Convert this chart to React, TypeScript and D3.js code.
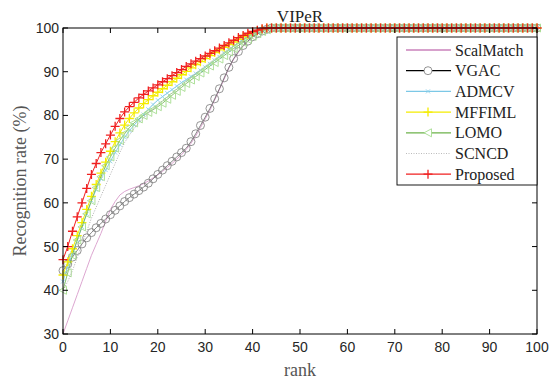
import { useEffect, useRef } from 'react';
import * as d3 from 'd3';

// rank axis (CMC curve, ranks 0..100)
const ranks = d3.range(0, 101);
const xTicks = [0, 10, 20, 30, 40, 50, 60, 70, 80, 90, 100];
const yTicks = [30, 40, 50, 60, 70, 80, 90, 100];

const scalMatch = [
  30, 33, 36, 39, 42, 45, 48, 50.5, 53, 55.8,
  58.5, 60.3, 61.8, 62.6, 63.1, 63.5, 63.9, 64.4, 65, 65.7,
  66.4, 67.2, 68.1, 69, 70, 71, 72.2, 73.6, 75.3, 77.2,
  79.2, 81.2, 83.5, 85.9, 88.3, 90.8, 92.8, 94.4, 95.8, 96.9,
  97.9, 98.6, 99.2, 99.6, 100,
  100, 100, 100, 100, 100, 100, 100, 100, 100, 100, 100, 100, 100, 100, 100, 100, 100, 100, 100, 100, 100, 100, 100, 100, 100, 100, 100, 100,
  100, 100, 100, 100, 100, 100, 100, 100, 100, 100, 100, 100, 100, 100, 100, 100, 100, 100, 100, 100, 100, 100, 100, 100, 100, 100, 100, 100,
];

const vgac = [
  44.5, 46, 47.6, 49.1, 50.6, 52, 53.2, 54.3, 55.3, 56.3,
  57.3, 58.3, 59.3, 60.3, 61.2, 62, 62.8, 63.6, 64.5, 65.5,
  66.5, 67.5, 68.5, 69.5, 70.5, 71.5, 72.5, 74, 75.8, 77.7,
  79.6, 81.6, 83.8, 86.1, 88.6, 91, 93, 94.6, 96, 97,
  98, 98.7, 99.3, 99.7, 100,
  100, 100, 100, 100, 100, 100, 100, 100, 100, 100, 100, 100, 100, 100, 100, 100, 100, 100, 100, 100, 100, 100, 100, 100, 100, 100, 100, 100,
  100, 100, 100, 100, 100, 100, 100, 100, 100, 100, 100, 100, 100, 100, 100, 100, 100, 100, 100, 100, 100, 100, 100, 100, 100, 100, 100, 100,
];

const admcv = [
  42, 45.5, 48.5, 51.5, 54.5, 57.5, 60.5, 63, 65.5, 67.5,
  69.5, 71.5, 73.3, 75, 76.5, 77.8, 79, 80.2, 81.4, 82.5,
  83.5, 84.3, 85.1, 85.9, 86.7, 87.5, 88.2, 88.9, 89.6, 90.3,
  91, 91.8, 92.6, 93.4, 94.2, 95, 95.8, 96.6, 97.4, 98.1,
  98.7, 99.2, 99.6, 100, 100,
  100, 100, 100, 100, 100, 100, 100, 100, 100, 100, 100, 100, 100, 100, 100, 100, 100, 100, 100, 100, 100, 100, 100, 100, 100, 100, 100, 100,
  100, 100, 100, 100, 100, 100, 100, 100, 100, 100, 100, 100, 100, 100, 100, 100, 100, 100, 100, 100, 100, 100, 100, 100, 100, 100, 100, 100,
];

const mffiml = [
  43.5, 46.5, 49.5, 52.5, 55.5, 58.5, 61.5, 64.2, 66.8, 69.3,
  71.8, 74, 76, 77.8, 79.3, 80.6, 81.7, 82.7, 83.6, 84.5,
  85.3, 86.1, 86.9, 87.7, 88.5, 89.3, 90.1, 90.9, 91.6, 92.3,
  93, 93.7, 94.4, 95, 95.6, 96.2, 96.8, 97.4, 98, 98.5,
  99, 99.4, 99.7, 100, 100,
  100, 100, 100, 100, 100, 100, 100, 100, 100, 100, 100, 100, 100, 100, 100, 100, 100, 100, 100, 100, 100, 100, 100, 100, 100, 100, 100, 100,
  100, 100, 100, 100, 100, 100, 100, 100, 100, 100, 100, 100, 100, 100, 100, 100, 100, 100, 100, 100, 100, 100, 100, 100, 100, 100, 100, 100,
];

const lomo = [
  40, 44, 48, 51.5, 54.5, 57.5, 60.5, 63.5, 66, 68.5,
  70.5, 72.5, 74.3, 75.8, 77.2, 78.3, 79.2, 80, 80.7, 81.3,
  82, 82.8, 83.7, 84.6, 85.5, 86.4, 87.3, 88.1, 88.9, 89.7,
  90.5, 91.3, 92.1, 92.9, 93.7, 94.5, 95.3, 96, 96.7, 97.4,
  98.1, 98.7, 99.2, 99.6, 100,
  100, 100, 100, 100, 100, 100, 100, 100, 100, 100, 100, 100, 100, 100, 100, 100, 100, 100, 100, 100, 100, 100, 100, 100, 100, 100, 100, 100,
  100, 100, 100, 100, 100, 100, 100, 100, 100, 100, 100, 100, 100, 100, 100, 100, 100, 100, 100, 100, 100, 100, 100, 100, 100, 100, 100, 100,
];

const scncd = [
  40, 42, 44.5, 47.5, 50.5, 53.5, 56.5, 59, 61.5, 64,
  66.5, 69, 71.5, 73.8, 75.5, 77, 78.3, 79.5, 80.5, 81.5,
  82.4, 83.3, 84.2, 85.1, 86, 86.9, 87.8, 88.7, 89.6, 90.5,
  91.3, 92.1, 92.9, 93.7, 94.5, 95.3, 96, 96.7, 97.4, 98,
  98.6, 99.1, 99.5, 99.8, 100,
  100, 100, 100, 100, 100, 100, 100, 100, 100, 100, 100, 100, 100, 100, 100, 100, 100, 100, 100, 100, 100, 100, 100, 100, 100, 100, 100, 100,
  100, 100, 100, 100, 100, 100, 100, 100, 100, 100, 100, 100, 100, 100, 100, 100, 100, 100, 100, 100, 100, 100, 100, 100, 100, 100, 100, 100,
];

const proposed = [
  47, 50, 53.5, 56.8, 60, 63.3, 66.5, 69, 71.5, 73.5,
  75.5, 77.5, 79.3, 80.8, 82, 83, 84, 84.8, 85.6, 86.3,
  87, 87.7, 88.4, 89.1, 89.8, 90.5, 91.2, 91.8, 92.4, 93,
  93.6, 94.2, 94.8, 95.4, 96, 96.6, 97.2, 97.8, 98.3, 98.8,
  99.2, 99.5, 99.8, 100, 100,
  100, 100, 100, 100, 100, 100, 100, 100, 100, 100, 100, 100, 100, 100, 100, 100, 100, 100, 100, 100, 100, 100, 100, 100, 100, 100, 100, 100,
  100, 100, 100, 100, 100, 100, 100, 100, 100, 100, 100, 100, 100, 100, 100, 100, 100, 100, 100, 100, 100, 100, 100, 100, 100, 100, 100, 100,
];

type Marker = 'none' | 'circle' | 'x' | 'plus' | 'triLeft';

interface SeriesConfig {
  name: string;
  values: number[];
  lineColor: string;
  legendColor: string;
  lineWidth: number;
  dash?: string;
  marker: Marker;
  markerColor: string;
}

const series: SeriesConfig[] = [
  { name: 'ScalMatch', values: scalMatch, lineColor: '#d89ccb', legendColor: '#b0449a', lineWidth: 0.9, marker: 'none', markerColor: '' },
  { name: 'VGAC', values: vgac, lineColor: '#333', legendColor: '#000', lineWidth: 0.6, marker: 'circle', markerColor: '#7a7a7a' },
  { name: 'ADMCV', values: admcv, lineColor: '#8fd0ea', legendColor: '#7cc8e6', lineWidth: 1, marker: 'x', markerColor: '#8fd0ea' },
  { name: 'MFFIML', values: mffiml, lineColor: '#f4ec00', legendColor: '#f4ec00', lineWidth: 1, marker: 'plus', markerColor: '#f4ec00' },
  { name: 'LOMO', values: lomo, lineColor: '#6cb24a', legendColor: '#6cb24a', lineWidth: 0.8, marker: 'triLeft', markerColor: '#a6dc90' },
  { name: 'SCNCD', values: scncd, lineColor: '#9a9a9a', legendColor: '#aaa', lineWidth: 0.8, dash: '1 1.5', marker: 'none', markerColor: '' },
  { name: 'Proposed', values: proposed, lineColor: '#f02020', legendColor: '#f02020', lineWidth: 1, marker: 'plus', markerColor: '#f02020' },
];

const markerPath = (m: Marker): string => {
  switch (m) {
    case 'plus': return 'M-4.5,0H4.5M0,-4.5V4.5';
    case 'x': return 'M-2,-2L2,2M-2,2L2,-2';
    case 'triLeft': return 'M-4,0L3.5,-4L3.5,4Z';
    default: return '';
  }
};

const WIDTH = 552;
const HEIGHT = 381;
const margin = { top: 28, right: 15, bottom: 47, left: 63 };

function CmcChart() {
  const svgRef = useRef<SVGSVGElement>(null);

  useEffect(() => {
    if (!svgRef.current) return;
    const svg = d3.select(svgRef.current);
    svg.selectAll('*').remove();

    const innerWidth = WIDTH - margin.left - margin.right;
    const innerHeight = HEIGHT - margin.top - margin.bottom;

    const x = d3.scaleLinear().domain([0, 100]).range([0, innerWidth]);
    const y = d3.scaleLinear().domain([30, 100]).range([innerHeight, 0]);

    svg.append('rect').attr('width', WIDTH).attr('height', HEIGHT).attr('fill', '#fff');

    const g = svg.append('g').attr('transform', `translate(${margin.left},${margin.top})`);

    // curves + markers
    series.forEach((s) => {
      const line = d3.line<number>()
        .x((_, i) => x(ranks[i]))
        .y((d) => y(d));

      g.append('path')
        .datum(s.values)
        .attr('d', line)
        .attr('fill', 'none')
        .attr('stroke', s.lineColor)
        .attr('stroke-width', s.lineWidth)
        .attr('stroke-dasharray', s.dash || null);

      if (s.marker === 'circle') {
        g.selectAll(null)
          .data(s.values)
          .enter()
          .append('circle')
          .attr('cx', (_, i) => x(ranks[i]))
          .attr('cy', (d) => y(d))
          .attr('r', 4)
          .attr('fill', 'none')
          .attr('stroke', s.markerColor)
          .attr('stroke-width', 0.8);
      } else if (s.marker !== 'none') {
        g.selectAll(null)
          .data(s.values)
          .enter()
          .append('path')
          .attr('transform', (d, i) => `translate(${x(ranks[i])},${y(d)})`)
          .attr('d', markerPath(s.marker))
          .attr('fill', 'none')
          .attr('stroke', s.markerColor)
          .attr('stroke-width', s.marker === 'plus' ? 1.3 : 0.9);
      }
    });

    // axes box
    g.append('rect')
      .attr('width', innerWidth)
      .attr('height', innerHeight)
      .attr('fill', 'none')
      .attr('stroke', '#000')
      .attr('stroke-width', 1);

    const tickLen = 5;
    xTicks.forEach((t) => {
      g.append('line').attr('x1', x(t)).attr('x2', x(t)).attr('y1', innerHeight).attr('y2', innerHeight - tickLen).attr('stroke', '#000');
      g.append('line').attr('x1', x(t)).attr('x2', x(t)).attr('y1', 0).attr('y2', tickLen).attr('stroke', '#000');
      g.append('text')
        .attr('x', x(t))
        .attr('y', innerHeight + 18)
        .attr('text-anchor', 'middle')
        .attr('font-family', '"Liberation Sans", Arial, sans-serif')
        .attr('font-size', 14)
        .attr('fill', '#262626')
        .text(t);
    });
    yTicks.forEach((t) => {
      g.append('line').attr('x1', 0).attr('x2', tickLen).attr('y1', y(t)).attr('y2', y(t)).attr('stroke', '#000');
      g.append('line').attr('x1', innerWidth).attr('x2', innerWidth - tickLen).attr('y1', y(t)).attr('y2', y(t)).attr('stroke', '#000');
      g.append('text')
        .attr('x', -4)
        .attr('y', y(t))
        .attr('dy', '0.36em')
        .attr('text-anchor', 'end')
        .attr('font-family', '"Liberation Sans", Arial, sans-serif')
        .attr('font-size', 14)
        .attr('fill', '#262626')
        .text(t);
    });

    // title and axis labels
    svg.append('text')
      .attr('x', margin.left + innerWidth / 2)
      .attr('y', 22)
      .attr('text-anchor', 'middle')
      .attr('font-family', '"Liberation Serif", "Times New Roman", serif')
      .attr('font-size', 17)
      .attr('fill', '#222')
      .text('VIPeR');

    svg.append('text')
      .attr('x', margin.left + innerWidth / 2)
      .attr('y', 376)
      .attr('text-anchor', 'middle')
      .attr('font-family', '"Liberation Serif", "Times New Roman", serif')
      .attr('font-size', 18)
      .attr('fill', '#555')
      .text('rank');

    svg.append('text')
      .attr('transform', `translate(26,${margin.top + innerHeight / 2}) rotate(-90)`)
      .attr('text-anchor', 'middle')
      .attr('font-family', '"Liberation Serif", "Times New Roman", serif')
      .attr('font-size', 18)
      .attr('fill', '#555')
      .text('Recognition rate (%)');

    // legend
    const lg = svg.append('g').attr('transform', 'translate(397,37)');
    lg.append('rect')
      .attr('width', 140)
      .attr('height', 148)
      .attr('fill', '#fff')
      .attr('stroke', '#000')
      .attr('stroke-width', 0.9);

    series.forEach((s, i) => {
      const ry = 13 + i * 20.7;
      lg.append('line')
        .attr('x1', 9).attr('x2', 54)
        .attr('y1', ry).attr('y2', ry)
        .attr('stroke', s.legendColor)
        .attr('stroke-width', s.name === 'SCNCD' ? 0.8 : 1.2)
        .attr('stroke-dasharray', s.dash || null);
      if (s.marker === 'circle') {
        lg.append('circle').attr('cx', 31).attr('cy', ry).attr('r', 4)
          .attr('fill', '#fff').attr('stroke', s.markerColor).attr('stroke-width', 0.8);
      } else if (s.marker !== 'none') {
        lg.append('path')
          .attr('transform', `translate(31,${ry})`)
          .attr('d', markerPath(s.marker))
          .attr('fill', s.marker === 'triLeft' ? '#fff' : 'none')
          .attr('stroke', s.markerColor)
          .attr('stroke-width', s.marker === 'plus' ? 1.3 : 0.9);
      }
      lg.append('text')
        .attr('x', 58)
        .attr('y', ry)
        .attr('dy', '0.35em')
        .attr('font-family', '"Liberation Serif", "Times New Roman", serif')
        .attr('font-size', 16)
        .attr('fill', '#222')
        .text(s.name);
    });
  }, []);

  return (
    <svg
      ref={svgRef}
      width={WIDTH}
      height={HEIGHT}
      style={{ position: 'absolute', left: 0, top: 0, display: 'block' }}
    />
  );
}

export default function App() {
  return <CmcChart />;
}
